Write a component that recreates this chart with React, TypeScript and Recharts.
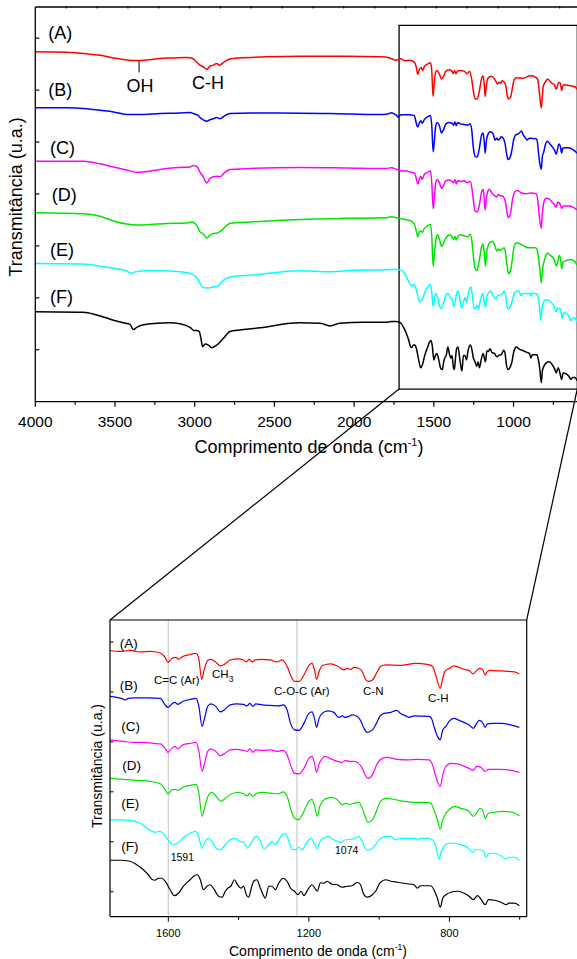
import React from 'react';
import { LineChart, Line, XAxis, YAxis, ReferenceLine, ReferenceArea } from 'recharts';

type Pt = [number, number];

// full range spectra, 4000 -> 1766 cm-1 (top panel units)
const A_HI: Pt[] = [[4000,6.74],[3803,6.73],[3678,6.70],[3594,6.67],[3510,6.62],[3427,6.58],[3364,6.57],[3301,6.58],[3218,6.61],[3134,6.62],[3050,6.63],[3019,6.62],[2988,6.54],[2967,6.48],[2942,6.44],[2925,6.40],[2904,6.46],[2883,6.48],[2862,6.51],[2845,6.48],[2816,6.54],[2779,6.60],[2716,6.62],[2549,6.64],[2339,6.65],[2256,6.65],[2047,6.65],[1838,6.64],[1775,6.62]];
const B_HI: Pt[] = [[4000,5.66],[3803,5.66],[3678,5.64],[3594,5.61],[3510,5.58],[3427,5.53],[3343,5.53],[3218,5.55],[3092,5.56],[3029,5.57],[3009,5.55],[2977,5.51],[2967,5.47],[2942,5.42],[2925,5.40],[2904,5.43],[2883,5.45],[2862,5.47],[2841,5.45],[2810,5.51],[2779,5.55],[2653,5.56],[2465,5.56],[2151,5.55],[1838,5.53],[1790,5.54]];
const C_HI: Pt[] = [[4000,4.63],[3699,4.63],[3594,4.58],[3510,4.52],[3427,4.46],[3364,4.42],[3280,4.44],[3176,4.49],[3092,4.51],[3029,4.52],[3009,4.55],[2984,4.52],[2967,4.42],[2946,4.33],[2925,4.21],[2904,4.30],[2883,4.33],[2862,4.34],[2841,4.33],[2810,4.42],[2779,4.47],[2653,4.49],[2339,4.51],[2047,4.50],[1800,4.49]];
const D_HI: Pt[] = [[4000,3.64],[3699,3.62],[3594,3.57],[3510,3.48],[3427,3.42],[3364,3.40],[3280,3.41],[3176,3.43],[3050,3.44],[3019,3.46],[2988,3.40],[2967,3.27],[2946,3.23],[2925,3.15],[2904,3.21],[2883,3.24],[2858,3.25],[2831,3.30],[2779,3.43],[2653,3.46],[2339,3.51],[2047,3.53],[1800,3.54]];
const E_HI: Pt[] = [[4000,2.66],[3699,2.65],[3594,2.61],[3510,2.57],[3427,2.52],[3395,2.47],[3375,2.50],[3301,2.52],[3218,2.52],[3092,2.50],[3029,2.47],[2988,2.39],[2967,2.28],[2946,2.20],[2914,2.19],[2883,2.21],[2858,2.22],[2831,2.31],[2779,2.40],[2632,2.44],[2339,2.52],[2151,2.50],[2000,2.53],[1800,2.54]];
const F_HI: Pt[] = [[4000,1.73],[3699,1.72],[3615,1.67],[3510,1.57],[3448,1.52],[3406,1.49],[3385,1.39],[3364,1.43],[3322,1.48],[3239,1.51],[3155,1.52],[3092,1.50],[3029,1.43],[3004,1.37],[2988,1.37],[2971,1.35],[2963,1.25],[2950,1.06],[2935,1.11],[2914,1.09],[2894,1.04],[2862,1.09],[2820,1.22],[2779,1.35],[2716,1.38],[2632,1.41],[2549,1.44],[2402,1.51],[2340,1.52],[2214,1.51],[2151,1.46],[2089,1.51],[1942,1.53],[1800,1.53]];

// fingerprint region, 1766 -> 601 cm-1 (zoom panel units)
const A_FP: Pt[] = [[1766,5.33],[1737,5.31],[1709,5.33],[1680,5.30],[1652,5.31],[1623,5.28],[1609,5.19],[1601,5.09],[1590,5.17],[1578,5.19],[1571,5.15],[1559,5.21],[1538,5.25],[1521,5.27],[1513,5.15],[1505,4.75],[1498,4.94],[1488,5.13],[1479,5.15],[1464,5.09],[1452,5.02],[1441,5.05],[1424,5.14],[1403,5.16],[1386,5.14],[1378,5.10],[1370,5.15],[1361,5.10],[1353,5.14],[1336,5.15],[1310,5.14],[1291,5.10],[1276,5.14],[1262,5.01],[1251,4.82],[1241,4.71],[1228,4.71],[1214,4.84],[1200,5.03],[1191,5.07],[1184,4.94],[1178,4.75],[1171,4.91],[1161,5.03],[1138,5.06],[1119,5.02],[1100,4.94],[1091,4.97],[1081,4.95],[1072,4.99],[1058,4.97],[1048,4.91],[1040,4.77],[1032,4.71],[1019,4.74],[1005,4.91],[996,5.01],[981,5.04],[939,5.03],[896,5.07],[863,5.05],[848,5.01],[839,4.84],[826,4.57],[820,4.74],[813,4.91],[801,4.97],[787,5.02],[758,4.95],[744,4.93],[732,4.86],[725,4.91],[715,4.97],[706,4.95],[698,4.84],[692,4.91],[682,4.93],[653,4.92],[615,4.90],[601,4.86]];
const B_FP: Pt[] = [[1766,4.41],[1747,4.39],[1733,4.37],[1723,4.34],[1714,4.37],[1699,4.38],[1657,4.38],[1623,4.37],[1609,4.24],[1601,4.19],[1590,4.26],[1581,4.29],[1573,4.25],[1559,4.31],[1538,4.35],[1521,4.37],[1513,4.21],[1504,3.81],[1498,3.94],[1488,4.21],[1479,4.26],[1465,4.21],[1452,4.10],[1441,4.14],[1424,4.24],[1405,4.26],[1386,4.25],[1376,4.22],[1368,4.27],[1359,4.21],[1351,4.26],[1333,4.24],[1310,4.23],[1286,4.22],[1273,4.24],[1262,4.14],[1252,3.87],[1241,3.74],[1228,3.73],[1214,3.87],[1200,4.07],[1191,4.10],[1184,3.97],[1178,3.79],[1171,3.97],[1162,4.07],[1146,4.12],[1129,4.09],[1115,3.99],[1105,4.02],[1096,3.99],[1086,4.01],[1077,4.04],[1062,4.01],[1053,3.93],[1043,3.77],[1034,3.69],[1019,3.74],[1010,3.84],[998,4.01],[986,4.07],[967,4.09],[950,4.13],[939,4.07],[924,4.02],[915,3.99],[901,4.02],[858,4.01],[851,3.97],[844,3.81],[834,3.61],[826,3.54],[819,3.74],[810,3.81],[801,3.91],[787,3.97],[772,3.93],[758,3.89],[744,3.84],[732,3.77],[725,3.84],[715,3.93],[706,3.89],[698,3.79],[692,3.86],[677,3.87],[653,3.87],[625,3.84],[601,3.79]];
const C_FP: Pt[] = [[1766,3.54],[1728,3.51],[1699,3.49],[1671,3.49],[1642,3.47],[1623,3.46],[1609,3.37],[1601,3.29],[1590,3.37],[1581,3.41],[1573,3.36],[1559,3.44],[1538,3.47],[1521,3.49],[1513,3.31],[1504,2.91],[1498,3.04],[1488,3.31],[1479,3.36],[1465,3.31],[1452,3.22],[1441,3.26],[1424,3.34],[1405,3.35],[1386,3.33],[1376,3.31],[1368,3.36],[1359,3.29],[1351,3.34],[1333,3.33],[1310,3.34],[1291,3.31],[1273,3.33],[1262,3.24],[1252,3.04],[1241,2.87],[1228,2.86],[1214,2.97],[1200,3.17],[1191,3.21],[1184,3.07],[1178,2.89],[1171,3.06],[1162,3.17],[1153,3.21],[1138,3.16],[1119,3.11],[1105,3.09],[1096,3.13],[1086,3.11],[1072,3.11],[1058,3.07],[1048,2.97],[1040,2.84],[1032,2.77],[1019,2.84],[1005,3.07],[991,3.17],[977,3.19],[948,3.15],[920,3.14],[891,3.15],[858,3.14],[848,3.04],[839,2.81],[826,2.61],[819,2.84],[810,3.01],[796,3.07],[777,3.06],[758,3.01],[744,2.97],[732,2.93],[723,3.01],[712,3.00],[698,2.91],[689,2.95],[653,2.95],[625,2.93],[601,2.89]];
const D_FP: Pt[] = [[1766,2.77],[1728,2.75],[1690,2.73],[1652,2.71],[1623,2.66],[1609,2.54],[1601,2.46],[1590,2.54],[1581,2.55],[1573,2.53],[1559,2.59],[1538,2.63],[1521,2.65],[1513,2.47],[1504,2.01],[1496,2.21],[1485,2.44],[1476,2.49],[1464,2.41],[1450,2.31],[1438,2.37],[1419,2.46],[1400,2.49],[1386,2.46],[1376,2.42],[1368,2.47],[1359,2.41],[1349,2.47],[1333,2.49],[1305,2.47],[1286,2.46],[1273,2.50],[1260,2.37],[1251,2.14],[1241,1.97],[1229,1.94],[1214,2.11],[1200,2.31],[1191,2.35],[1184,2.22],[1176,2.01],[1169,2.21],[1157,2.34],[1148,2.37],[1134,2.39],[1119,2.34],[1105,2.24],[1096,2.27],[1086,2.25],[1072,2.27],[1058,2.29],[1048,2.17],[1040,2.01],[1032,1.89],[1019,1.94],[1010,2.07],[996,2.31],[981,2.37],[958,2.35],[929,2.31],[901,2.29],[863,2.29],[853,2.27],[844,2.14],[834,1.94],[826,1.75],[819,1.94],[810,2.07],[801,2.14],[787,2.21],[767,2.17],[744,2.11],[732,2.01],[723,2.07],[713,2.17],[706,2.14],[698,1.97],[689,2.07],[672,2.09],[649,2.11],[620,2.09],[601,2.02]];
const E_FP: Pt[] = [[1766,1.94],[1737,1.94],[1709,1.93],[1680,1.87],[1661,1.77],[1647,1.71],[1638,1.69],[1623,1.71],[1614,1.66],[1601,1.54],[1587,1.44],[1571,1.49],[1552,1.61],[1538,1.67],[1523,1.71],[1514,1.61],[1504,1.37],[1495,1.51],[1485,1.57],[1476,1.51],[1464,1.37],[1452,1.34],[1438,1.44],[1424,1.54],[1409,1.57],[1397,1.51],[1387,1.49],[1381,1.44],[1374,1.37],[1365,1.46],[1357,1.57],[1348,1.61],[1338,1.51],[1327,1.35],[1314,1.44],[1305,1.51],[1295,1.44],[1286,1.54],[1276,1.64],[1267,1.67],[1257,1.51],[1248,1.35],[1238,1.34],[1229,1.39],[1219,1.34],[1210,1.44],[1200,1.54],[1193,1.57],[1184,1.44],[1176,1.36],[1167,1.53],[1153,1.59],[1143,1.61],[1134,1.56],[1119,1.51],[1110,1.49],[1096,1.54],[1081,1.55],[1067,1.57],[1058,1.61],[1048,1.51],[1040,1.37],[1032,1.33],[1019,1.37],[1010,1.44],[996,1.57],[981,1.61],[967,1.61],[953,1.54],[939,1.57],[896,1.57],[891,1.53],[882,1.57],[863,1.57],[848,1.54],[839,1.41],[829,1.15],[823,1.31],[815,1.41],[801,1.47],[787,1.47],[767,1.44],[749,1.39],[734,1.29],[725,1.34],[712,1.34],[703,1.31],[696,1.19],[687,1.27],[672,1.27],[653,1.22],[639,1.15],[630,1.19],[615,1.19],[601,1.13]];
const F_FP: Pt[] = [[1766,1.13],[1737,1.13],[1709,1.11],[1690,1.04],[1671,0.94],[1657,0.84],[1647,0.75],[1638,0.73],[1628,0.77],[1619,0.77],[1609,0.71],[1595,0.54],[1583,0.42],[1571,0.47],[1557,0.61],[1538,0.74],[1526,0.82],[1517,0.84],[1509,0.74],[1500,0.54],[1490,0.61],[1481,0.64],[1469,0.54],[1457,0.41],[1447,0.39],[1438,0.51],[1431,0.57],[1422,0.61],[1412,0.74],[1403,0.64],[1393,0.57],[1386,0.61],[1378,0.44],[1371,0.39],[1365,0.54],[1357,0.71],[1348,0.74],[1338,0.57],[1329,0.42],[1324,0.37],[1314,0.61],[1305,0.61],[1295,0.54],[1286,0.67],[1273,0.77],[1262,0.71],[1252,0.57],[1241,0.51],[1231,0.44],[1222,0.51],[1214,0.42],[1203,0.54],[1191,0.64],[1181,0.55],[1176,0.51],[1167,0.68],[1157,0.67],[1148,0.71],[1134,0.65],[1119,0.64],[1115,0.62],[1105,0.59],[1091,0.61],[1077,0.62],[1062,0.69],[1053,0.64],[1045,0.47],[1034,0.39],[1019,0.44],[1010,0.51],[998,0.67],[981,0.74],[967,0.71],[948,0.69],[920,0.66],[901,0.64],[891,0.57],[882,0.62],[853,0.62],[844,0.54],[834,0.37],[826,0.19],[819,0.37],[810,0.44],[796,0.49],[777,0.51],[758,0.47],[744,0.41],[732,0.34],[720,0.42],[712,0.37],[698,0.24],[689,0.34],[672,0.33],[653,0.29],[639,0.24],[630,0.27],[615,0.27],[601,0.22]];

const SAMPLES = ['(A)', '(B)', '(C)', '(D)', '(E)', '(F)'];
const COLORS = ['#ff0000', '#0000ff', '#ff00ff', '#00e400', '#00ffff', '#000000'];
const HI = [A_HI, B_HI, C_HI, D_HI, E_HI, F_HI];
const FP = [A_FP, B_FP, C_FP, D_FP, E_FP, F_FP];

// the fingerprint part is drawn a bit stretched in the big panel
const TOP_FP_SCALE = 1.25;
const TOP_FP_SHIFT = [-0.06, 0.05, 0.08, 0.1, 0.12, 0.13];

const TOP_X_TICKS = [4000, 3750, 3500, 3250, 3000, 2750, 2500, 2250, 2000, 1750, 1500, 1250, 1000, 750];
const TOP_FRAME_TICKS = [3806, 3613, 3419, 3226, 3032, 2839, 2645, 2452, 2258, 2065, 1871, 1677, 1484, 1290, 1097, 903, 710];
const TOP_Y_TICKS = [1, 2, 3, 4, 5, 6, 7];
const BOT_X_TICKS = [1600, 1400, 1200, 1000, 800, 600];
const BOT_X_LABELED = [1600, 1200, 800];
const BOT_Y_LEFT_TICKS = [0.5, 1.5, 2.5, 3.5, 4.5, 5.5];
const BOT_Y_RIGHT_TICKS = [0.5, 1, 1.5, 2, 2.5, 3, 3.5, 4, 4.5, 5, 5.5];
const GUIDE_LINES = [1600, 1234];

const TOP_X_DOMAIN: [number, number] = [600, 4000];
const TOP_Y_MAX = 7.6;
const INSET_X: [number, number] = [600, 1718];
const INSET_Y: [number, number] = [0.244, 7.245];
const BOT_X_DOMAIN: [number, number] = [580, 1766];
const BOT_Y_MAX = 5.94;

const toRows = (pts: Pt[]) => pts.map(([w, v]) => ({ w, v }));
const topRows = HI.map((hi, i) => [
  ...toRows(hi),
  ...FP[i].map(([w, v]) => ({ w, v: +(v * TOP_FP_SCALE + TOP_FP_SHIFT[i]).toFixed(3) })),
]);
const botRows = FP.map(toRows);

const FONT = '"Liberation Sans", Arial, sans-serif';

// layout: plot boxes (x0, y0, x1, y1) in page pixels
const TOP = { width: 600, height: 470, plotL: 35.3, plotT: 6, plotR: 577.3, plotB: 401.7 };
const BOT = { offsetY: 600, width: 560, height: 359, plotL: 110, plotT: 20, plotR: 526.7, plotB: 316.7 };
const AX_H = 20; // space reserved for the x axes
const AX_W = 20; // space reserved for the y axes

const topX = (w: number) =>
  TOP.plotL + ((TOP_X_DOMAIN[1] - w) / (TOP_X_DOMAIN[1] - TOP_X_DOMAIN[0])) * (TOP.plotR - TOP.plotL);
const topY = (v: number) => TOP.plotT + ((TOP_Y_MAX - v) / TOP_Y_MAX) * (TOP.plotB - TOP.plotT);

const TopXTick = (p: any) => {
  const major = p.payload.value % 500 === 0;
  return (
    <g>
      <line x1={p.x} x2={p.x} y1={TOP.plotB} y2={TOP.plotB + (major ? 5 : 3)} stroke="#000" strokeWidth={1.2} />
      {major && (
        <text x={p.x} y={TOP.plotB + 20} dy="0.35em" textAnchor="middle" fontSize={15.5} fontFamily={FONT} fill="#000">
          {p.payload.value}
        </text>
      )}
    </g>
  );
};

const TopFrameTick = (p: any) => (
  <line x1={p.x} x2={p.x} y1={TOP.plotT} y2={TOP.plotT + 2.5} stroke="#000" strokeWidth={1} />
);

const TopYTick = (p: any) => (
  <line x1={TOP.plotL} x2={TOP.plotL + 4} y1={p.y} y2={p.y} stroke="#000" strokeWidth={1.2} />
);

const BotXTick = (p: any) => {
  const major = BOT_X_LABELED.includes(p.payload.value);
  return (
    <g>
      <line x1={p.x} x2={p.x} y1={BOT.plotB} y2={BOT.plotB + (major ? 5 : 3)} stroke="#000" strokeWidth={1} />
      {major && (
        <text x={p.x} y={BOT.plotB + 16} dy="0.35em" textAnchor="middle" fontSize={11} fontFamily={FONT} fill="#000">
          {p.payload.value}
        </text>
      )}
    </g>
  );
};

const BotYLeftTick = (p: any) => (
  <line x1={BOT.plotL} x2={BOT.plotL + 3.5} y1={p.y} y2={p.y} stroke="#000" strokeWidth={1} />
);

const BotYRightTick = (p: any) => (
  <line x1={BOT.plotR - 3.5} x2={BOT.plotR} y1={p.y} y2={p.y} stroke="#000" strokeWidth={1} />
);

const TOP_LABEL_POS: [number, number][] = [[48.3, 33], [48.3, 90], [50, 148], [51.7, 195], [50, 250], [50, 297]];
const BOT_LABEL_POS: [number, number][] = [[119.7, 643.3], [119.7, 685], [121.3, 726.7], [122.3, 765], [121.3, 803.3], [121.3, 846]];

const txt = { fontFamily: FONT, fill: '#000' };

export default function App() {
  const conn = [
    [topX(INSET_X[1]), topY(INSET_Y[0]), BOT.plotL, BOT.offsetY + BOT.plotT],
    [topX(INSET_X[0]), topY(INSET_Y[0]), BOT.plotR, BOT.offsetY + BOT.plotT],
  ];

  const topMargin = {
    top: TOP.plotT,
    left: TOP.plotL - AX_W,
    right: TOP.width - TOP.plotR,
    bottom: TOP.height - TOP.plotB - AX_H,
  };
  const botMargin = {
    top: BOT.plotT - 10,
    left: BOT.plotL - AX_W,
    right: BOT.width - BOT.plotR - AX_W,
    bottom: BOT.height - BOT.plotB - AX_H,
  };

  return (
    <div style={{ position: 'absolute', left: 0, top: 0, width: 577, height: 959, overflow: 'hidden', background: '#fff' }}>
      {/* full spectrum */}
      <div style={{ position: 'absolute', left: 0, top: 0 }}>
        <LineChart width={TOP.width} height={TOP.height} margin={topMargin}>
          <XAxis
            dataKey="w" type="number" domain={TOP_X_DOMAIN} reversed allowDataOverflow
            ticks={TOP_X_TICKS} interval={0} height={AX_H} tickLine={false} tick={TopXTick}
            axisLine={{ stroke: '#000', strokeWidth: 1.3 }}
          />
          <XAxis
            xAxisId="frame" orientation="top" dataKey="w" type="number" domain={TOP_X_DOMAIN} reversed allowDataOverflow
            ticks={TOP_FRAME_TICKS} interval={0} height={1} tickLine={false} tick={TopFrameTick}
            axisLine={{ stroke: '#000', strokeWidth: 1.3 }}
          />
          <YAxis
            type="number" domain={[0, TOP_Y_MAX]} ticks={TOP_Y_TICKS} interval={0} width={AX_W}
            tickLine={false} tick={TopYTick} axisLine={{ stroke: '#000', strokeWidth: 1.3 }}
          />
          <ReferenceArea
            x1={INSET_X[1]} x2={INSET_X[0]} y1={INSET_Y[0]} y2={INSET_Y[1]}
            fill="none" fillOpacity={0} stroke="#000" strokeWidth={1.3} ifOverflow="visible"
          />
          <ReferenceLine segment={[{ x: 3349, y: 6.58 }, { x: 3349, y: 6.34 }]} stroke="#000" strokeWidth={1} />
          {topRows.map((rows, i) => (
            <Line
              key={SAMPLES[i]} data={rows} dataKey="v" type="monotone" stroke={COLORS[i]}
              strokeWidth={1.5} dot={false} isAnimationActive={false}
            />
          ))}
        </LineChart>
      </div>

      {/* zoom on the fingerprint region */}
      <div style={{ position: 'absolute', left: 0, top: BOT.offsetY }}>
        <LineChart width={BOT.width} height={BOT.height} margin={botMargin}>
          <XAxis
            dataKey="w" type="number" domain={BOT_X_DOMAIN} reversed allowDataOverflow
            ticks={BOT_X_TICKS} interval={0} height={AX_H} tickLine={false} tick={BotXTick}
            axisLine={{ stroke: '#000', strokeWidth: 1.2 }}
          />
          <XAxis
            xAxisId="frame" orientation="top" dataKey="w" type="number" domain={BOT_X_DOMAIN} reversed allowDataOverflow
            height={10} tick={false} tickLine={false} axisLine={{ stroke: '#000', strokeWidth: 1.2 }}
          />
          <YAxis
            type="number" domain={[0, BOT_Y_MAX]} ticks={BOT_Y_LEFT_TICKS} interval={0} width={AX_W}
            tickLine={false} tick={BotYLeftTick} axisLine={{ stroke: '#000', strokeWidth: 1.2 }}
          />
          <YAxis
            yAxisId="right" orientation="right" type="number" domain={[0, BOT_Y_MAX]} ticks={BOT_Y_RIGHT_TICKS}
            interval={0} width={AX_W} tickLine={false} tick={BotYRightTick} axisLine={{ stroke: '#000', strokeWidth: 1.2 }}
          />
          {GUIDE_LINES.map((g) => (
            <ReferenceLine key={g} x={g} stroke="#cccccc" strokeWidth={1.2} />
          ))}
          {botRows.map((rows, i) => (
            <Line
              key={SAMPLES[i]} data={rows} dataKey="v" type="monotone" stroke={COLORS[i]}
              strokeWidth={1.2} dot={false} isAnimationActive={false}
            />
          ))}
        </LineChart>
      </div>

      {/* texts and connector lines */}
      <svg width={577} height={959} style={{ position: 'absolute', left: 0, top: 0, pointerEvents: 'none' }}>
        {conn.map(([x1, y1, x2, y2], i) => (
          <line key={i} x1={x1} y1={y1} x2={x2} y2={y2} stroke="#000" strokeWidth={1.2} />
        ))}

        {SAMPLES.map((s, i) => (
          <text key={'t' + s} x={TOP_LABEL_POS[i][0]} y={TOP_LABEL_POS[i][1]} dy="0.35em" fontSize={18} {...txt}>{s}</text>
        ))}
        <text x={140} y={86} dy="0.35em" textAnchor="middle" fontSize={18} {...txt}>OH</text>
        <text x={208} y={83} dy="0.35em" textAnchor="middle" fontSize={18} {...txt}>C-H</text>

        <text x={309} y={446.7} dy="0.35em" textAnchor="middle" fontSize={18} {...txt}>
          Comprimento de onda (cm<tspan dy={-7} fontSize={11}>-1</tspan><tspan dy={7}>)</tspan>
        </text>
        <text x={15.5} y={197} dy="0.35em" textAnchor="middle" fontSize={18} transform="rotate(-90 15.5 197)" {...txt}>
          Transmitância (u.a.)
        </text>

        {SAMPLES.map((s, i) => (
          <text key={'b' + s} x={BOT_LABEL_POS[i][0]} y={BOT_LABEL_POS[i][1]} dy="0.35em" fontSize={13.5} {...txt}>{s}</text>
        ))}
        <text x={154} y={680} dy="0.35em" fontSize={11.5} {...txt}>C=C (Ar)</text>
        <text x={212} y={674} dy="0.35em" fontSize={11.5} {...txt}>
          CH<tspan dy={4} fontSize={8.5}>3</tspan>
        </text>
        <text x={274} y={690.7} dy="0.35em" fontSize={11.5} {...txt}>C-O-C (Ar)</text>
        <text x={363} y={690.7} dy="0.35em" fontSize={11.5} {...txt}>C-N</text>
        <text x={428} y={697.7} dy="0.35em" fontSize={11.5} {...txt}>C-H</text>
        <text x={170.7} y={857.3} dy="0.35em" fontSize={10.5} {...txt}>1591</text>
        <text x={335} y={850.7} dy="0.35em" fontSize={10.5} {...txt}>1074</text>

        <text x={318} y={951} dy="0.35em" textAnchor="middle" fontSize={14} {...txt}>
          Comprimento de onda (cm<tspan dy={-5.5} fontSize={8.5}>-1</tspan><tspan dy={5.5}>)</tspan>
        </text>
        <text x={96.7} y={766} dy="0.35em" textAnchor="middle" fontSize={14} transform="rotate(-90 96.7 766)" {...txt}>
          Transmitância (u.a.)
        </text>
      </svg>
    </div>
  );
}
